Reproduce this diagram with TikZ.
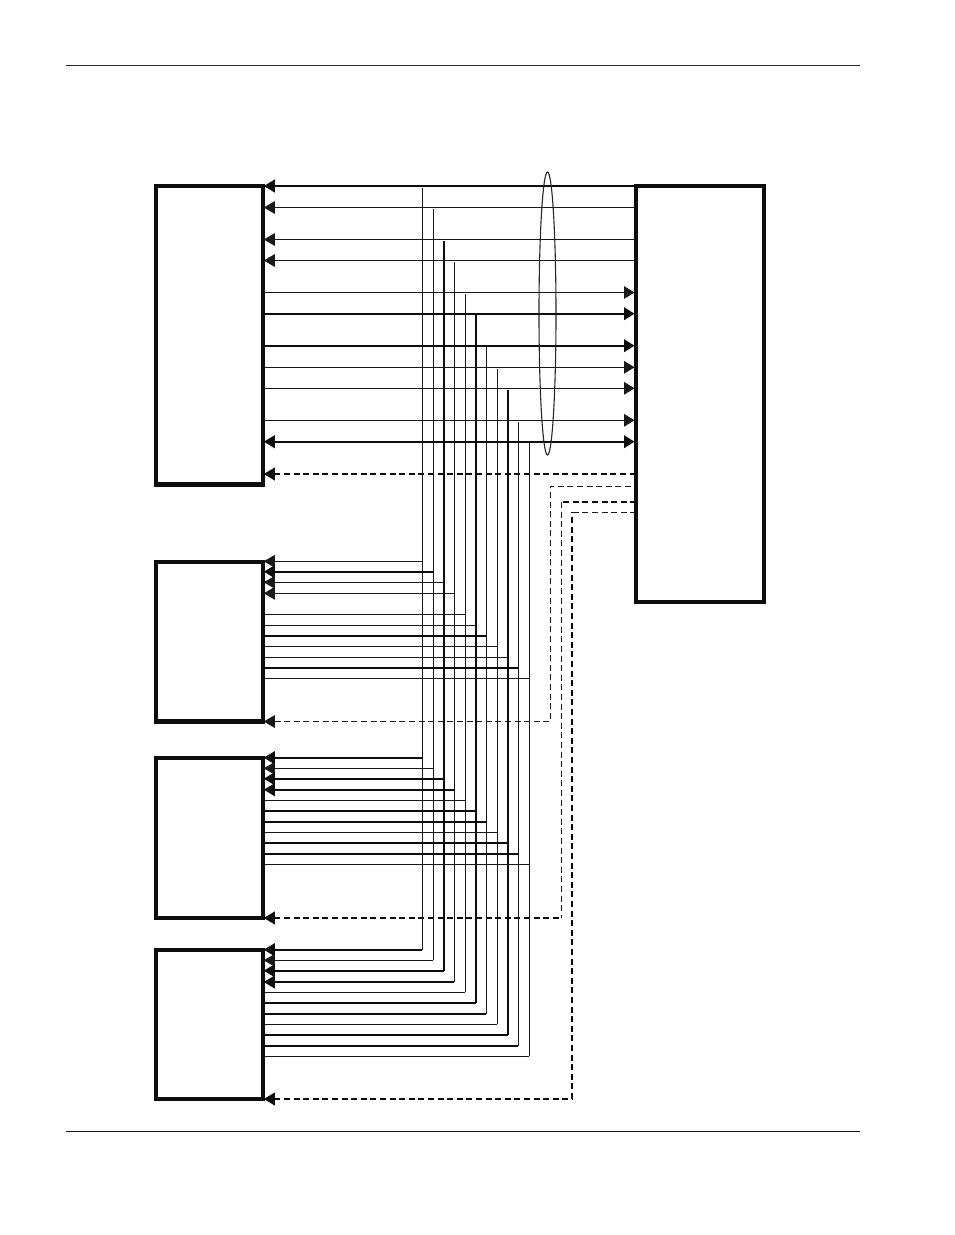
\documentclass[tikz,border=0pt]{standalone}
\usetikzlibrary{arrows.meta,shapes.geometric}
\tikzset{
  boxst/.style={draw=black!95,line width=4.1pt,rectangle,inner sep=0pt,outer sep=0pt,anchor=north west},
  thn/.style={line width=0.95pt,draw=black!90},
  thk/.style={line width=2.1pt,draw=black!95},
  busv/.style={shorten <=1.6pt},
  tipl/.style={{Triangle[length=11pt,width=12.6pt]}-,shorten <=0.8pt},
  tipr/.style={-{Triangle[length=10.5pt,width=12.6pt]},shorten >=1.8pt},
  tipb/.style={{Triangle[length=11pt,width=12.6pt]}-{Triangle[length=10.5pt,width=12.6pt]},shorten <=0.8pt,shorten >=1.8pt},
  dsh/.style={dash pattern=on 6pt off 3.6pt},
  dthn/.style={dsh,line width=1pt,draw=black!90},
  dthk/.style={dsh,line width=1.9pt,draw=black!95},
  rulethin/.style={line width=0.8pt,draw=black!85},
  rulethick/.style={line width=1.6pt,draw=black!90}
}
\begin{document}
\begin{tikzpicture}[x=1pt,y=-1pt]
\useasboundingbox (0,0) rectangle (954,1235);
\fill[white] (0,0) rectangle (954,1235);
% page rules
\coordinate (ra) at (66,65); \coordinate (rb) at (860,65);
\coordinate (rc) at (66,1131.5); \coordinate (rd) at (860,1131.5);
\draw[rulethin] (ra) -- (rb);
\draw[rulethick] (rc) -- (rd);
% boxes
\node[boxst,minimum width=107pt,minimum height=298.5pt] (boxA) at (156,186) {};
\node[boxst,minimum width=107pt,minimum height=159.5pt] (boxB) at (156,562) {};
\node[boxst,minimum width=107pt,minimum height=160pt] (boxC) at (156,758) {};
\node[boxst,minimum width=107pt,minimum height=149pt] (boxD) at (156,950) {};
\node[boxst,minimum width=128pt,minimum height=416.5pt] (boxR) at (636.3,185.8) {};
% vertical buses
\foreach \n/\bx/\ty in {
  1/422.3/186,2/433.3/207.5,3/443.7/239.5,4/454.3/260.5,
  5/465.3/292.5,6/476/313.7,7/486.3/345.7,8/497.3/367.3,
  9/507.7/388.3,10/518.3/420.3,11/529.3/441.7}{
  \coordinate (bus\n) at (\bx,\ty);
}
\foreach \n/\yd/\vw in {1/949.7/thn,2/960.3/thn,3/970.7/thk,4/982/thn,5/992.3/thn,6/1002.7/thk,
  7/1013.7/thn,8/1024.3/thn,9/1035/thk,10/1045.7/thn,11/1056.3/thn}{
  \draw[\vw,busv] (bus\n) -- (bus\n |- 0,\yd);
}
% rows of box A
\foreach \n/\y/\w in {1/186/thk,2/207.5/thn,3/239.5/thn,4/260.5/thn}{
  \draw[\w,tipl] (boxA.east |- 0,\y) -- (boxR.west |- 0,\y);
}
\foreach \n/\y/\w in {5/292.5/thn,6/313.7/thk,7/345.7/thk,8/367.3/thn,9/388.3/thn,10/420.3/thn}{
  \draw[\w,tipr] (boxA.east |- 0,\y) -- (boxR.west |- 0,\y);
}
\draw[thk,tipb] (boxA.east |- 0,441.7) -- (boxR.west |- 0,441.7);
% rows of box B
\foreach \n/\y/\w in {1/561.3/thn,2/571.7/thk,3/582.3/thn,4/593.3/thn}{
  \draw[\w,tipl] (boxB.east |- 0,\y) -- (bus\n |- 0,\y);
}
\foreach \n/\y/\w in {5/614.3/thn,6/625.3/thn,7/636/thk,8/646.3/thn,9/657.3/thn,10/667.7/thk,11/678.3/thn}{
  \draw[\w] (boxB.east |- 0,\y) -- (bus\n |- 0,\y);
}
% rows of box C
\foreach \n/\y/\w in {1/757.7/thk,2/768.3/thn,3/778.7/thk,4/789.7/thk}{
  \draw[\w,tipl] (boxC.east |- 0,\y) -- (bus\n |- 0,\y);
}
\foreach \n/\y/\w in {5/800.3/thn,6/811/thk,7/821.7/thk,8/832.3/thn,9/843/thk,10/853.7/thk,11/864.3/thn}{
  \draw[\w] (boxC.east |- 0,\y) -- (bus\n |- 0,\y);
}
% rows of box D
\foreach \n/\y/\w in {1/949.7/thk,2/960.3/thn,3/970.7/thk,4/982/thk}{
  \draw[\w,tipl] (boxD.east |- 0,\y) -- (bus\n |- 0,\y);
}
\foreach \n/\y/\w in {5/992.3/thn,6/1002.7/thk,7/1013.7/thk,8/1024.3/thn,9/1035/thk,10/1045.7/thk,11/1056.3/thn}{
  \draw[\w] (boxD.east |- 0,\y) -- (bus\n |- 0,\y);
}
% dashed lines
\draw[dthk,tipl] (boxA.east |- 0,474) -- (boxR.west |- 0,474);
\coordinate (da) at (550.3,486.3);
\coordinate (db) at (561.5,502);
\coordinate (dc) at (572,512.3);
\draw[dthn,tipl] (boxB.east |- 0,721.5) -- (da |- 0,721.5) -- (da) -- (boxR.west |- da);
\draw[dthk] (boxR.west |- db) -- (db);
\draw[dthn] (db) -- (db |- 0,918);
\draw[dthk,tipl] (boxC.east |- 0,918) -- (db |- 0,918);
\draw[dthn] (boxR.west |- dc) -- (dc);
\draw[dthk,tipl] (boxD.east |- 0,1099) -- (dc |- 0,1099) -- (dc);
% bundle ellipse
\node[draw=black!85,line width=1.1pt,ellipse,minimum width=17pt,minimum height=283pt,inner sep=0pt,outer sep=0pt] (bundle) at (547.5,313.5) {};
\end{tikzpicture}
\end{document}
